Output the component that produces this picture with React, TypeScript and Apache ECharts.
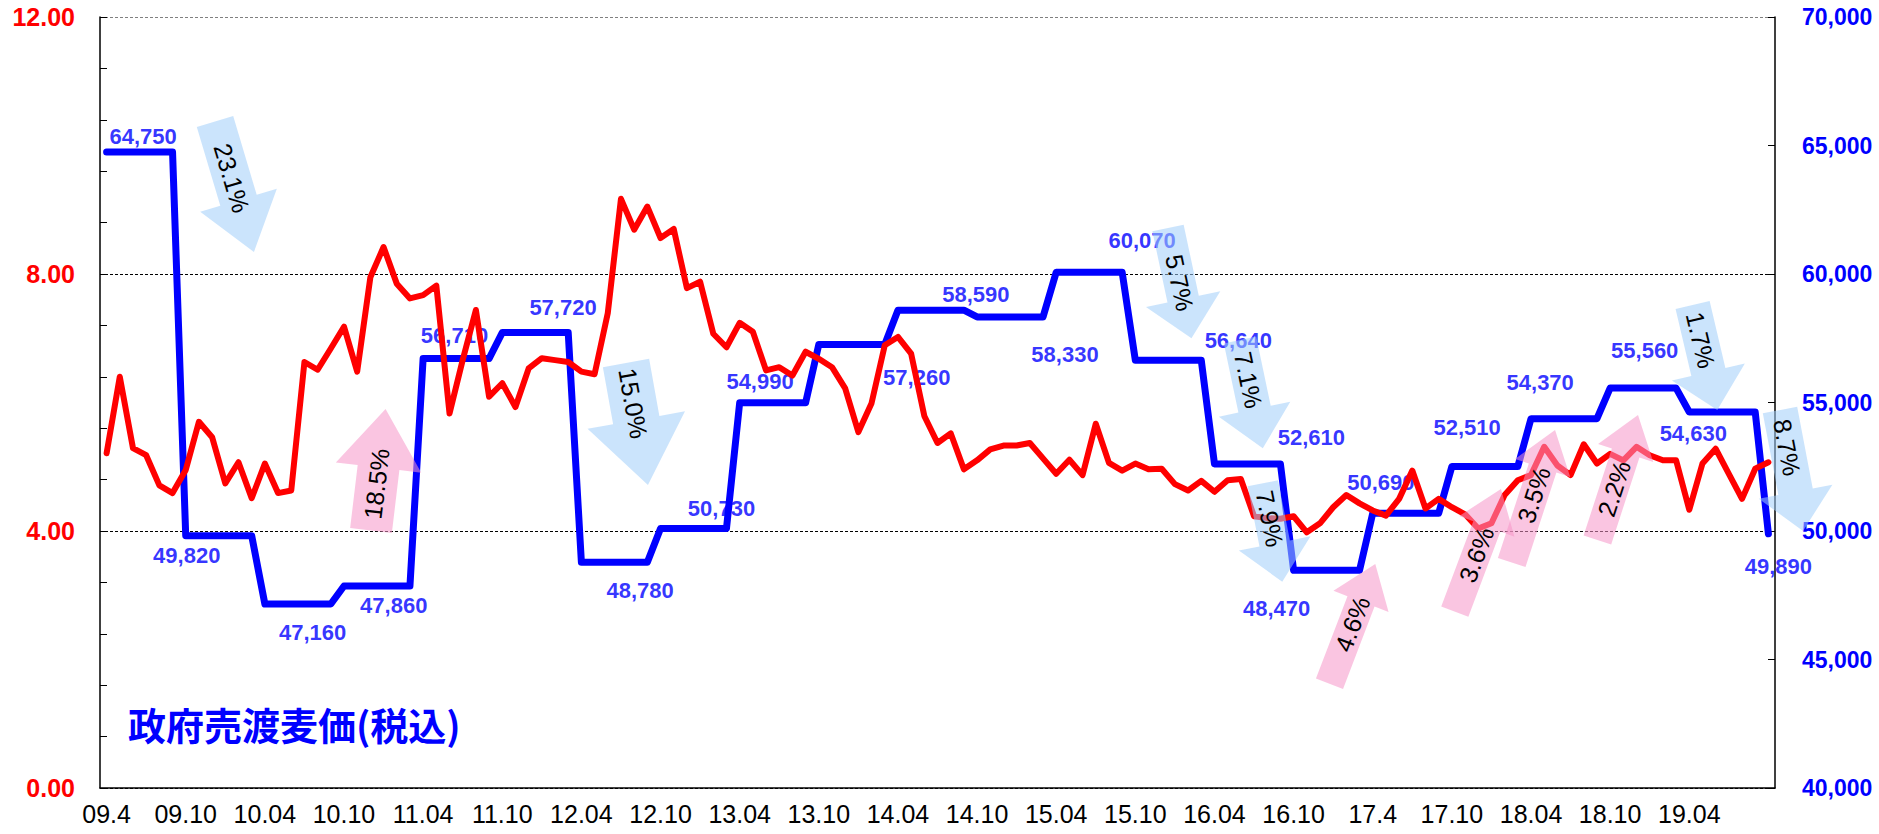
import React, { useEffect, useRef } from "react";
import * as echarts from "echarts";

// ---------- data ----------
const tickLabels = [
  "09.4", "09.10", "10.04", "10.10", "11.04", "11.10", "12.04", "12.10",
  "13.04", "13.10", "14.04", "14.10", "15.04", "15.10", "16.04", "16.10",
  "17.4", "17.10", "18.04", "18.10", "19.04",
];

// monthly categories 2009.04 .. 2019.10
const monthCount = 127;
const categories: string[] = [];
for (let i = 0; i < monthCount; i++) {
  const m = 3 + i;
  const y = 2009 + Math.floor(m / 12);
  const mm = (m % 12) + 1;
  categories.push(`${y}.${String(mm).padStart(2, "0")}`);
}

// red line (left axis), monthly
const redValues = [
  5.21, 6.40, 5.29, 5.18, 4.71, 4.59, 4.95, 5.70, 5.46, 4.74,
  5.07, 4.51, 5.05, 4.59, 4.63, 6.63, 6.51, 6.84, 7.18, 6.48,
  7.95, 8.42, 7.85, 7.62, 7.67, 7.82, 5.83, 6.66, 7.44, 6.09,
  6.30, 5.93, 6.53, 6.69, 6.66, 6.63, 6.48, 6.44, 7.39, 9.17,
  8.69, 9.05, 8.56, 8.70, 7.78, 7.88, 7.07, 6.86, 7.24, 7.10,
  6.50, 6.55, 6.42, 6.79, 6.68, 6.55, 6.22, 5.54, 5.99, 6.89,
  7.02, 6.76, 5.79, 5.37, 5.52, 4.96, 5.10, 5.27, 5.33, 5.33,
  5.37, 5.13, 4.89, 5.11, 4.87, 5.67, 5.06, 4.94, 5.05, 4.96,
  4.97, 4.73, 4.63, 4.78, 4.61, 4.79, 4.81, 4.23, 4.20, 4.19,
  4.23, 3.98, 4.12, 4.37, 4.56, 4.43, 4.32, 4.24, 4.50, 4.94,
  4.35, 4.50, 4.37, 4.26, 4.04, 4.12, 4.56, 4.79, 4.87, 5.31,
  5.02, 4.87, 5.35, 5.05, 5.20, 5.10, 5.31, 5.18, 5.10, 5.10,
  4.33, 5.05, 5.28, 4.89, 4.50, 4.97, 5.07,
];

// government sale price (right axis), one value per half-year period (plotted level)
const blueSteps = [
  64750, 49820, 47160, 47860, 56710, 57720, 48780, 50100, 54990, 57260, 58590,
  58330, 60070, 56640, 52610, 48470, 50690, 52510, 54370, 55560, 54630, 49890,
];
const blueStepLabels = [
  "64,750", "49,820", "47,160", "47,860", "56,710", "57,720", "48,780", "50,730",
  "54,990", "57,260", "58,590", "58,330", "60,070", "56,640", "52,610", "48,470",
  "50,690", "52,510", "54,370", "55,560", "54,630", "49,890",
];
const monthsPerStep = 6;
const blueValues = categories.map((_, i) => blueSteps[Math.floor(i / monthsPerStep)]);

// ---------- placement (positions / styles) ----------
// [category index, dx, dy] for each step label
const labelPlacement: [number, number, number][] = [
  [3, -3, -15], [6, 1, 20], [16, -5, 29], [22, -3, 20], [26, 5, -23], [34, 8, -25],
  [40, 6, 28], [47, -5, -20], [50, -6, -21], [59, 32, 33], [65, 12, -16], [71, 22, 38],
  [77, 20, -32], [83, 37, -20], [89, 31, -26], [90, -17, 38], [97, -5, -31], [103, 2, -39],
  [109, -4, -36], [117, -5, -38], [120, 4, 21], [126, 10, 33],
];

// arrows: tailX, tailY, tipX, tipY, shaftW, headW, headL, textAt, text, kind
type Arrow = [number, number, number, number, number, number, number, number, string, "down" | "up"];
const arrows: Arrow[] = [
  [215, 121.5, 254, 252, 38, 80, 54, 59, "23.1%", "down"],
  [371, 530.5, 385.5, 409, 42, 86, 59, 47, "18.5%", "up"],
  [626, 363, 648, 485, 47, 99, 66, 41, "15.0%", "down"],
  [1168, 228, 1191.5, 338.3, 32, 76, 40, 56, "5.7%", "down"],
  [1240, 340, 1262.8, 448.3, 33, 73, 40, 41, "7.1%", "down"],
  [1262.8, 483.3, 1282.3, 581.7, 31, 73, 39, 36, "7.9%", "down"],
  [1329.5, 683.8, 1375.3, 564, 29, 59, 40, 64, "4.6%", "up"],
  [1454.8, 611.7, 1501, 489, 29, 59, 40, 61, "3.6%", "up"],
  [1511.7, 562.5, 1555, 430, 29, 58, 40, 71, "3.5%", "up"],
  [1597.4, 540, 1638, 415, 29, 58, 40, 54, "2.2%", "up"],
  [1692.6, 305, 1717.3, 410, 35, 75, 39, 36, "1.7%", "down"],
  [1780, 410, 1803, 531, 35, 75, 40, 38, "8.7%", "down"],
];

const SANS = '"Liberation Sans", Arial, sans-serif';
const CJK = '"Noto Sans CJK JP", "Noto Sans CJK SC", sans-serif';

function arrowGraphic(a: Arrow) {
  const [tx, ty, px, py, sw, hw, hl, textAt, text, kind] = a;
  const dx = px - tx;
  const dy = py - ty;
  const len = Math.sqrt(dx * dx + dy * dy);
  const theta = Math.atan2(dy, dx);
  const fill = kind === "down" ? "rgba(160,205,250,0.55)" : "rgba(245,150,200,0.55)";
  const b = len - hl;
  return {
    type: "group",
    x: tx,
    y: ty,
    rotation: -theta,
    silent: true,
    children: [
      {
        type: "polygon",
        z: 10,
        shape: {
          points: [
            [0, -sw / 2], [b, -sw / 2], [b, -hw / 2], [len, 0],
            [b, hw / 2], [b, sw / 2], [0, sw / 2],
          ],
        },
        style: { fill },
      },
      {
        type: "text",
        z: 11,
        x: textAt,
        y: 0,
        style: {
          text,
          fill: "#000",
          font: `25px ${SANS}`,
          textAlign: "center",
          textVerticalAlign: "middle",
        },
      },
    ],
  };
}

const blueLabelData = blueStepLabels.map((t, k) => ({
  value: [labelPlacement[k][0], blueSteps[k]],
  label: { offset: [labelPlacement[k][1], labelPlacement[k][2]], formatter: t },
}));

const option: any = {
  animation: false,
  backgroundColor: "#ffffff",
  grid: { left: 100, right: 104, top: 17, bottom: 46 },
  xAxis: {
    type: "category",
    data: categories,
    boundaryGap: true,
    axisLine: { lineStyle: { color: "#000", width: 1.5 } },
    axisTick: { inside: true, length: 6, interval: 0, lineStyle: { color: "#000", width: 1 } },
    axisLabel: {
      interval: 5,
      margin: 13,
      fontFamily: SANS,
      fontSize: 25,
      color: "#000",
      formatter: (_v: string, i: number) => tickLabels[i / 6] ?? "",
    },
    splitLine: { show: false },
  },
  yAxis: [
    {
      type: "value",
      position: "left",
      min: 0,
      max: 12,
      interval: 0.8,
      axisLine: { show: true, lineStyle: { color: "#000", width: 1.5 } },
      axisTick: { show: true, inside: true, length: 7, lineStyle: { color: "#000" } },
      axisLabel: {
        margin: 25,
        color: "#ff0000",
        fontWeight: "bold",
        fontFamily: SANS,
        fontSize: 25,
        formatter: (v: number) => {
          const r = v / 4;
          return Math.abs(r - Math.round(r)) < 1e-6 ? v.toFixed(2) : "";
        },
      },
      splitLine: { show: false },
    },
    {
      type: "value",
      position: "right",
      min: 40000,
      max: 70000,
      interval: 5000,
      axisLine: { show: true, lineStyle: { color: "#000", width: 1.5 } },
      axisTick: { show: true, inside: true, length: 7, lineStyle: { color: "#000" } },
      axisLabel: {
        margin: 27,
        color: "#0000ff",
        fontWeight: "bold",
        fontFamily: SANS,
        fontSize: 23,
        formatter: (v: number) => v.toLocaleString("en-US"),
      },
      splitLine: { show: false },
    },
    {
      type: "value",
      position: "left",
      min: 0,
      max: 12,
      interval: 4,
      axisLine: { show: false },
      axisTick: { show: false },
      axisLabel: { show: false },
      splitLine: {
        show: true,
        lineStyle: { color: ["#000", "#000", "#000", "#808080"], type: [3, 2], width: 1 },
      },
    },
  ],
  series: [
    {
      type: "scatter",
      yAxisIndex: 1,
      z: 1,
      symbolSize: 1,
      silent: true,
      itemStyle: { color: "rgba(0,0,0,0)" },
      data: blueLabelData,
      label: {
        show: true,
        position: "inside",
        align: "center",
        verticalAlign: "middle",
        color: "#0000ff",
        fontWeight: "bold",
        fontFamily: SANS,
        fontSize: 22,
      },
    },
    {
      type: "line",
      yAxisIndex: 1,
      z: 2,
      data: blueValues,
      symbol: "none",
      lineStyle: { color: "#0000ff", width: 7, cap: "round", join: "round" },
    },
    {
      type: "line",
      yAxisIndex: 0,
      z: 3,
      data: redValues,
      symbol: "none",
      lineStyle: { color: "#ff0000", width: 6, cap: "round", join: "round" },
    },
  ],
  graphic: [
    {
      type: "text",
      left: 128,
      top: 704,
      z: 5,
      style: {
        text: "政府売渡麦価(税込)",
        fill: "#0000ff",
        font: `bold 38px ${CJK}`,
      },
    },
    ...arrows.map(arrowGraphic),
  ],
};

export default function App() {
  const ref = useRef<HTMLDivElement>(null);
  useEffect(() => {
    const chart = echarts.init(ref.current!, undefined, { renderer: "svg" });
    chart.setOption(option);
    return () => chart.dispose();
  }, []);
  return (
    <div
      ref={ref}
      style={{ position: "fixed", left: 0, top: 0, width: 1879, height: 834, background: "#fff" }}
    />
  );
}
